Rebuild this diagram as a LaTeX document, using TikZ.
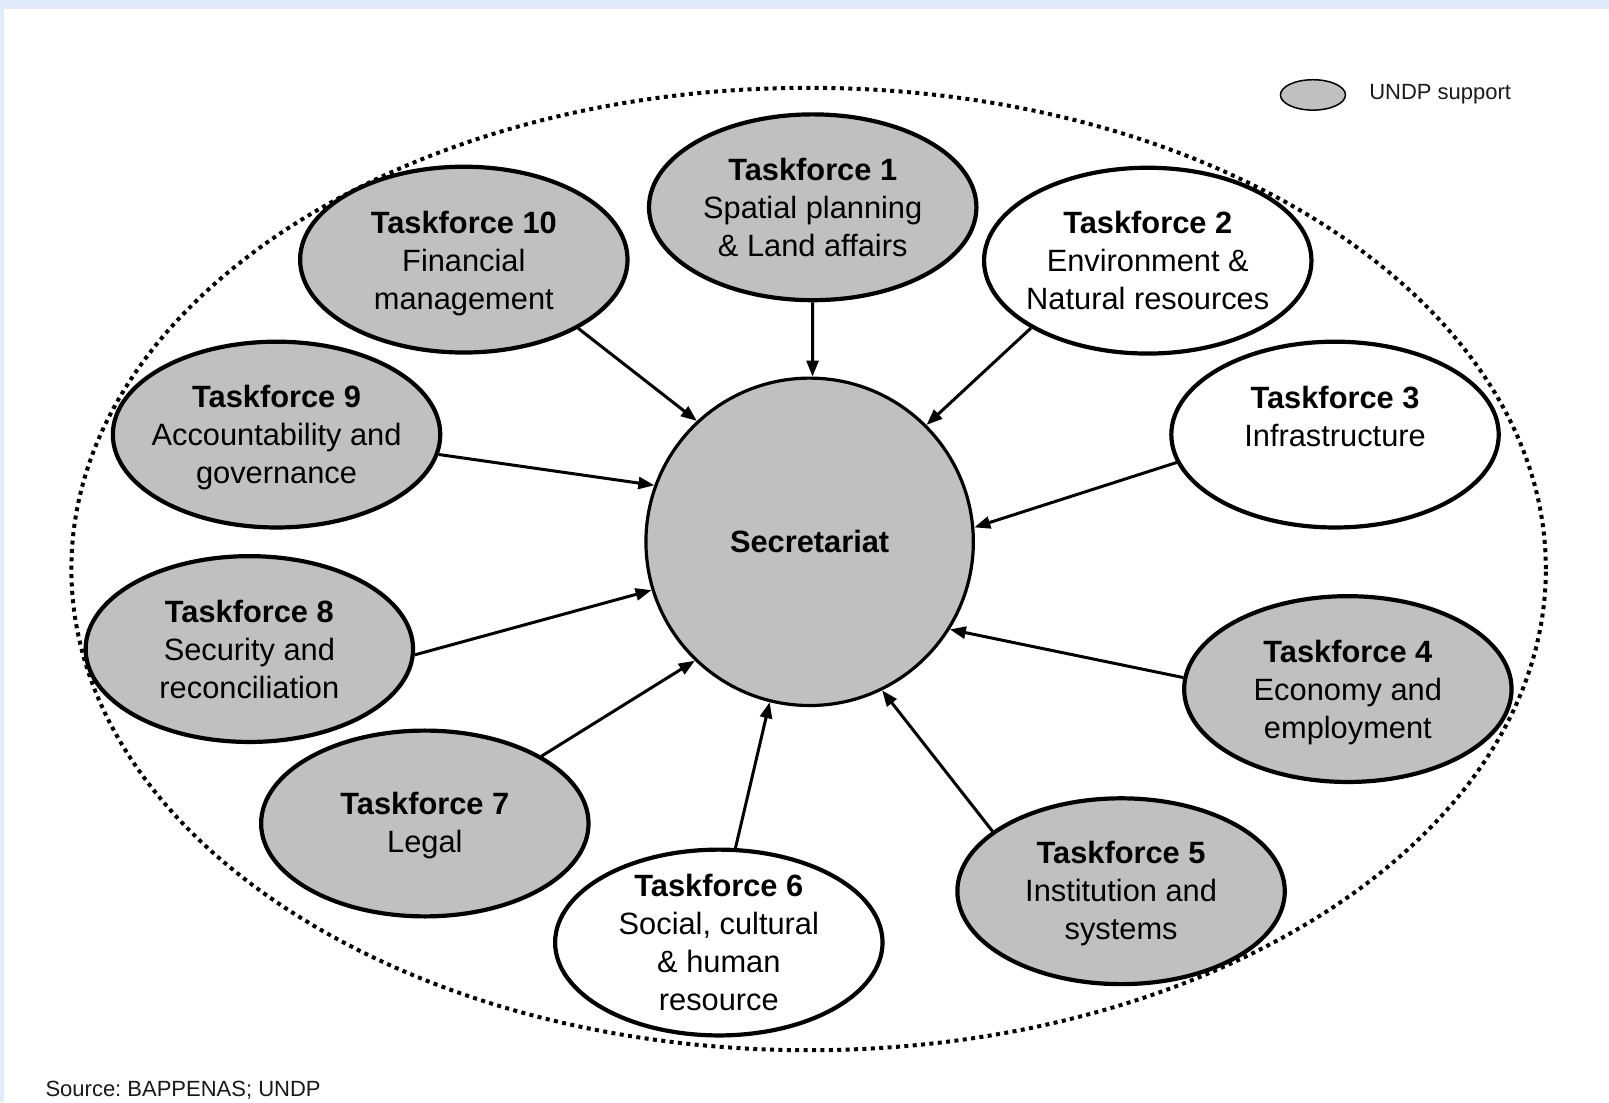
\documentclass[tikz,border=0pt]{standalone}
\usepackage{fontspec}
\setmainfont{Liberation Sans}
\usetikzlibrary{shapes.geometric,arrows.meta}
\definecolor{bgblue}{RGB}{223,234,250}
\definecolor{tfgray}{RGB}{192,192,192}
\frenchspacing
\begin{document}
\begin{tikzpicture}[x=0.51306pt,y=-0.51306pt,
 tf/.style={ellipse, draw, line width=2.1pt, minimum width=163.7pt, minimum height=92.9pt, inner sep=0pt},
 sup/.style={tf, fill=tfgray},
 nosup/.style={tf, fill=white},
 txt/.style={align=center, font=\fontsize{15.4}{19}\selectfont, inner sep=0pt},
 arr/.style={-{Triangle[length=8pt,width=6pt]}, line width=1.5pt},
 small/.style={anchor=west, font=\fontsize{11}{13}\selectfont, inner sep=0pt, text=black!90}
]
\useasboundingbox (0,0) rectangle (1568,1074);
\fill[bgblue] (0,0) rectangle (1568,1074);
\fill[white] (3.9,8.8) rectangle (1568,1074);

\draw[line width=2pt, dash pattern=on 2pt off 2.2pt] (788,554.5) ellipse [x radius=368.6pt, y radius=240.6pt];

\node[circle, draw, fill=tfgray, line width=1.6pt, minimum size=163.7pt, inner sep=0pt,
  font=\bfseries\fontsize{15.4}{19}\selectfont] (sec) at (789,528) {Secretariat};

\node[sup]   (tf1)  at (792,202)    {};
\node[nosup] (tf2)  at (1118.5,254) {};
\node[nosup] (tf3)  at (1301,423.5) {};
\node[sup]   (tf4)  at (1313.5,671.5) {};
\node[sup]   (tf5)  at (1092.5,868.5) {};
\node[nosup] (tf6)  at (700.5,918.5) {};
\node[sup]   (tf7)  at (414,802.5)  {};
\node[sup]   (tf8)  at (243,632.5)  {};
\node[sup]   (tf9)  at (269.5,423.5) {};
\node[sup]   (tf10) at (452,253)    {};

\node[txt] (tf1t)  at (tf1)  {\textbf{Taskforce 1}\\Spatial planning\\\& Land affairs};
\node[txt] (tf2t)  at (tf2)  {\textbf{Taskforce 2}\\Environment \&\\Natural resources};
\node[txt] (tf3t)  at (1301,406) {\textbf{Taskforce 3}\\Infrastructure};
\node[txt, yshift=-1.6pt] (tf4t)  at (tf4)  {\textbf{Taskforce 4}\\Economy and\\employment};
\node[txt, yshift=-1.2pt] (tf5t)  at (tf5)  {\textbf{Taskforce 5}\\Institution and\\systems};
\node[txt] (tf6t)  at (tf6)  {\textbf{Taskforce 6}\\Social, cultural\\\& human\\resource};
\node[txt, yshift=-1pt] (tf7t)  at (tf7)  {\textbf{Taskforce 7}\\Legal};
\node[txt] (tf8t)  at (tf8)  {\textbf{Taskforce 8}\\Security and\\reconciliation};
\node[txt, yshift=-1.6pt] (tf9t)  at (tf9)  {\textbf{Taskforce 9}\\Accountability and\\governance};
\node[txt, yshift=-2pt] (tf10t) at (tf10) {\textbf{Taskforce 10}\\Financial\\management};

\draw[arr] (tf1.270)   -- (sec.89.6);
\draw[arr] (tf2.210.9) -- (sec.45.7);
\draw[arr] (tf3.190.4) -- (sec.5.6);
\draw[arr] (tf4.176)   -- (sec.328.9);
\draw[arr] (tf5.155)   -- (sec.296.9);
\draw[arr] (tf6.80.9)  -- (sec.256.5);
\draw[arr] (tf7.30.9)  -- (sec.226);
\draw[arr] (tf8.358.8) -- (sec.197.6);
\draw[arr] (tf9.353.7) -- (sec.160.7);
\draw[arr] (tf10.329.6) -- (sec.133.8);

\node[ellipse, draw, fill=tfgray, line width=0.75pt, minimum width=32.5pt, minimum height=15.2pt, inner sep=0pt] (leg) at (1279.5,92.5) {};
\node[small] (legt) at (1334,92) {UNDP support};
\node[small] (src) at (44,1062) {Source: BAPPENAS; UNDP};
\end{tikzpicture}
\end{document}
